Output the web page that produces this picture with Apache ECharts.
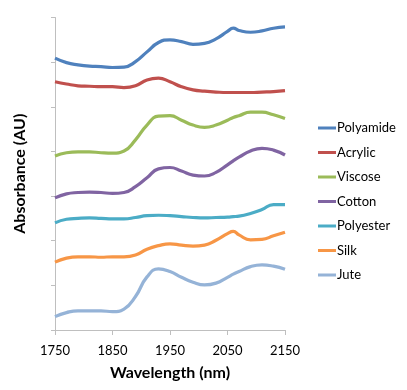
<!DOCTYPE html>
<html><head><meta charset="utf-8">
<script src="https://cdn.jsdelivr.net/npm/echarts@6/dist/echarts.min.js"></script>
<style>html,body{margin:0;padding:0;background:#fff}#c{width:407px;height:390px}</style>
</head><body><div id="c"></div>
<script>
const wavelengths = [1750,1770,1790,1810,1830,1850,1870,1890,1910,1930,1950,1970,1990,2010,2030,2050,2060,2070,2090,2110,2130,2150];
const seriesNames = ['Polyamide','Acrylic','Viscose','Cotton','Polyester','Silk','Jute'];
const polyamide = [6.09,5.99,5.94,5.91,5.90,5.88,5.89,6.01,6.23,6.44,6.50,6.46,6.40,6.42,6.52,6.69,6.76,6.71,6.67,6.70,6.76,6.79];
const acrylic   = [5.56,5.51,5.47,5.46,5.45,5.45,5.43,5.47,5.60,5.64,5.56,5.45,5.38,5.35,5.33,5.32,5.32,5.32,5.32,5.33,5.34,5.36];
const viscose   = [3.90,3.97,3.99,3.99,3.97,3.96,4.01,4.26,4.59,4.79,4.80,4.70,4.59,4.54,4.59,4.70,4.76,4.80,4.88,4.88,4.82,4.74];
const cotton    = [2.96,3.05,3.08,3.09,3.08,3.06,3.08,3.21,3.41,3.61,3.64,3.56,3.47,3.45,3.53,3.70,3.79,3.87,4.01,4.07,4.03,3.92];
const polyester = [2.40,2.48,2.50,2.51,2.50,2.49,2.49,2.52,2.56,2.57,2.56,2.54,2.52,2.51,2.52,2.53,2.54,2.55,2.61,2.70,2.81,2.81];
const silk      = [1.52,1.61,1.64,1.64,1.63,1.64,1.64,1.68,1.81,1.89,1.93,1.90,1.88,1.90,2.01,2.16,2.21,2.13,2.02,2.03,2.11,2.19];
const jute      = [0.30,0.39,0.43,0.43,0.43,0.41,0.47,0.75,1.19,1.37,1.31,1.18,1.07,1.01,1.05,1.18,1.25,1.31,1.42,1.46,1.43,1.36];
const xTicks = [1750,1850,1950,2050,2150];
const colors = ['#4F81BD','#C0504D','#9BBB59','#8064A2','#4BACC6','#F79646','#95B3D7'];
const allValues = [polyamide,acrylic,viscose,cotton,polyester,silk,jute];

const chart = echarts.init(document.getElementById('c'), null, {renderer:'canvas'});
const font = 'Lato, "Open Sans", sans-serif';
chart.setOption({
  animation:false,
  color: colors,
  grid:{left:55,right:122,top:17.5,bottom:60},
  legend:{
    orient:'vertical', left:313, top:116,
    itemWidth:18, itemHeight:3, itemGap:10.5, icon:'rect',
    textStyle:{fontFamily:font,fontSize:13,color:'#000',lineHeight:14,padding:[0,0,0,-4]},
    data: seriesNames
  },
  xAxis:{
    type:'value', min:xTicks[0], max:xTicks[xTicks.length-1], interval:100,
    name:'Wavelength (nm)', nameLocation:'middle', nameGap:35,
    nameTextStyle:{fontFamily:font,fontSize:16,fontWeight:'bold',color:'#000'},
    axisLine:{lineStyle:{color:'#BFBFBF'}},
    axisTick:{show:true,length:5,lineStyle:{color:'#BFBFBF'}},
    axisLabel:{fontFamily:font,fontSize:13,color:'#000',margin:14,formatter:v=>String(v)},
    splitLine:{show:false}
  },
  yAxis:{
    type:'value', min:0, max:7, interval:1,
    name:'Absorbance (AU)', nameLocation:'middle', nameGap:27,
    nameTextStyle:{fontFamily:font,fontSize:16,fontWeight:'bold',color:'#000'},
    axisLine:{show:true,lineStyle:{color:'#BFBFBF'}},
    axisTick:{show:true,length:4,lineStyle:{color:'#BFBFBF'}},
    axisLabel:{show:false},
    splitLine:{show:false}
  },
  series: seriesNames.map((n,i)=>({
    name:n, type:'line', smooth:0.5, showSymbol:false, symbol:'none',
    lineStyle:{width:3.2,color:colors[i]},
    data: wavelengths.map((w,j)=>[w, allValues[i][j]])
  }))
});
</script></body></html>
